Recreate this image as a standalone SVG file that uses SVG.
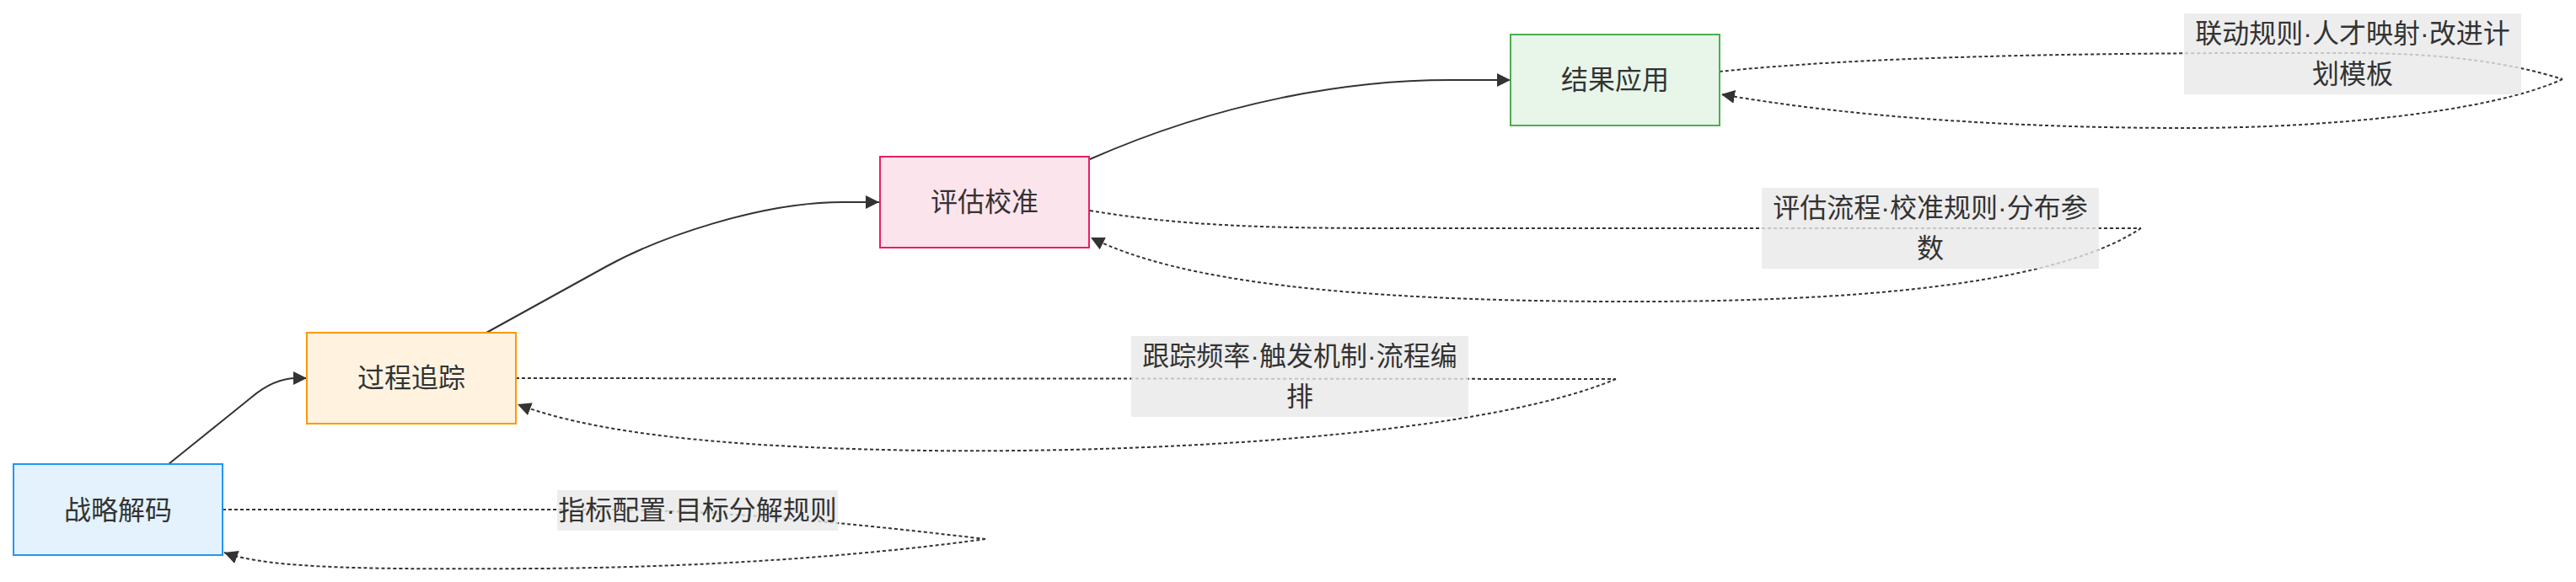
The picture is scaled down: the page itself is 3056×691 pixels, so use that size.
<svg xmlns="http://www.w3.org/2000/svg" width="3056" height="691" viewBox="0 0 3056 691">
<style>
.bg{fill:#ffffff}
.node rect{stroke-width:2}
.t{font-family:"Liberation Sans","Noto Sans CJK SC",sans-serif;font-size:32px;fill:#333333;text-anchor:middle}
.e{fill:none;stroke:#333333;stroke-width:2}
.d{stroke-dasharray:4 3}
.lb{fill:#e8e8e8;fill-opacity:0.8}
</style>
<defs>
<marker id="ah" viewBox="0 0 10 10" refX="10" refY="5" markerUnits="userSpaceOnUse" markerWidth="16" markerHeight="16" orient="auto">
<path d="M0,0 L10,5 L0,10 z" fill="#333333"/>
</marker>
</defs>
<rect class="bg" x="0" y="0" width="3056" height="691"/>
<g id="edges">
<path class="e" d="M200,551 L298,472 Q325,449 352,449 L364,449" marker-end="url(#ah)"/>
<path class="e" d="M577,395 L720,316 C780,283 900,240 1000,240 L1043,240" marker-end="url(#ah)"/>
<path class="e" d="M1293,189 C1450,120 1600,95 1720,95 L1792,95" marker-end="url(#ah)"/>
<path class="e d" d="M264,605 L720,605 C850,606 1000,620 1169,640"/>
<path class="e d" d="M1169,640 C1060,655 880,673 640,675 C450,676 320,676 266,656" marker-end="url(#ah)"/>
<path class="e d" d="M612,449 L1917,450"/>
<path class="e d" d="M1917,450 C1750,520 1350,538 1100,535 C900,532 720,520 614,480" marker-end="url(#ah)"/>
<path class="e d" d="M1293,250 C1400,268 1500,271 1650,271 L2540,271"/>
<path class="e d" d="M2540,271 C2450,330 2250,360 1900,358 C1600,356 1400,335 1294,282" marker-end="url(#ah)"/>
<path class="e d" d="M2040,85 C2200,68 2450,62 2791,63 C2900,63 2980,75 3040,94"/>
<path class="e d" d="M3040,94 C2950,135 2750,152 2594,152 C2400,152 2200,140 2042,112" marker-end="url(#ah)"/>
</g>
<g id="edge-labels">
<g id="label-1"><rect class="lb" x="661" y="582" width="333" height="48"/><text class="t" x="827.5" y="617">指标配置·目标分解规则</text></g>
<g id="label-2"><rect class="lb" x="1342" y="399" width="400" height="96"/><text class="t" x="1542" y="434">跟踪频率·触发机制·流程编</text><text class="t" x="1542" y="482">排</text></g>
<g id="label-3"><rect class="lb" x="2090" y="223" width="400" height="96"/><text class="t" x="2290" y="258">评估流程·校准规则·分布参</text><text class="t" x="2290" y="306">数</text></g>
<g id="label-4"><rect class="lb" x="2591" y="16" width="400" height="96"/><text class="t" x="2791" y="51">联动规则·人才映射·改进计</text><text class="t" x="2791" y="99">划模板</text></g>
</g>
<g id="node-A" class="node"><rect x="16" y="551" width="248" height="108" fill="#e3f2fd" stroke="#2196f3"/><text class="t" x="140" y="617">战略解码</text></g>
<g id="node-B" class="node"><rect x="364" y="395" width="248" height="108" fill="#fff3e0" stroke="#ff9800"/><text class="t" x="488" y="460">过程追踪</text></g>
<g id="node-C" class="node"><rect x="1044" y="186" width="248" height="108" fill="#fce4ec" stroke="#e91e63"/><text class="t" x="1168" y="251">评估校准</text></g>
<g id="node-D" class="node"><rect x="1792" y="41" width="248" height="108" fill="#e8f5e9" stroke="#4caf50"/><text class="t" x="1916" y="106">结果应用</text></g>
</svg>
